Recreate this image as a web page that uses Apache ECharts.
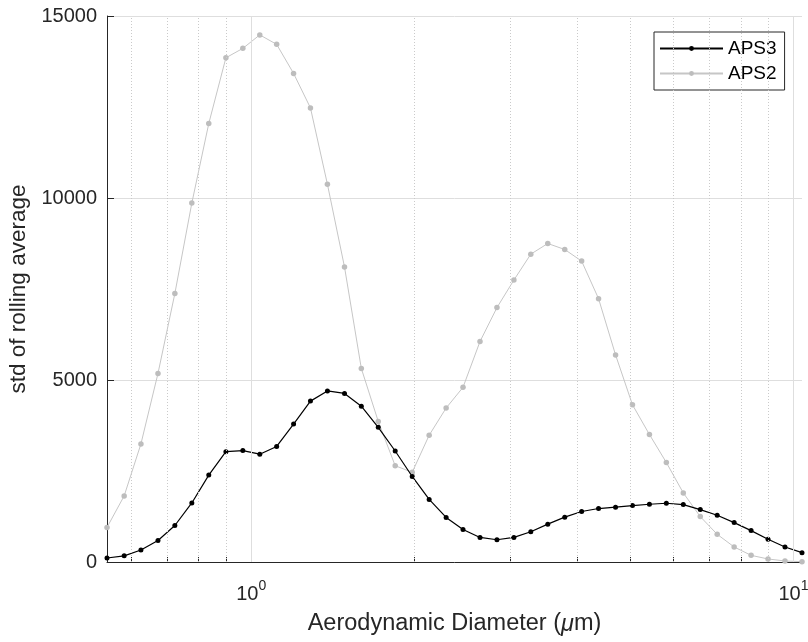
<!DOCTYPE html>
<html>
<head>
<meta charset="utf-8">
<script src="https://cdn.jsdelivr.net/npm/echarts@6/dist/echarts.min.js"></script>
<style>
  html, body { margin: 0; padding: 0; background: #ffffff; }
  #chart { width: 808px; height: 642px; }
</style>
</head>
<body>
<div id="chart"></div>
<script>
// Aerodynamic diameter channel midpoints (µm)
const diameters = [0.542, 0.583, 0.626, 0.673, 0.723, 0.777, 0.835, 0.898, 0.965, 1.037,
  1.114, 1.197, 1.286, 1.382, 1.486, 1.596, 1.715, 1.843, 1.981, 2.129,
  2.288, 2.458, 2.642, 2.839, 3.051, 3.278, 3.523, 3.786, 4.068, 4.371,
  4.698, 5.048, 5.425, 5.829, 6.264, 6.732, 7.234, 7.774, 8.354, 8.977,
  9.647, 10.37];

const aps3 = [110, 170, 330, 592, 1003, 1622, 2387, 3030, 3060, 2962,
  3175, 3790, 4420, 4700, 4630, 4280, 3700, 3050, 2350, 1720,
  1225, 894, 675, 611, 675, 830, 1040, 1232, 1387, 1469,
  1505, 1550, 1586, 1614, 1577, 1440, 1284, 1082, 862, 624,
  413, 257];

const aps2 = [950, 1816, 3244, 5180, 7375, 9860, 12046, 13852, 14111, 14481,
  14221, 13423, 12475, 10379, 8104, 5319, 3862, 2645, 2465, 3483,
  4230, 4799, 6058, 6989, 7746, 8458, 8750, 8586, 8266, 7235,
  5690, 4319, 3503, 2733, 1898, 1247, 761, 413, 183, 83,
  28, 10];

const seriesNames = ['APS3', 'APS2'];
const xTickValues = [0.6, 0.7, 0.8, 0.9, 1, 2, 3, 4, 5, 6, 7, 8, 9, 10];
const xLabelValues = [1, 10];
const xMinorGrid = [0.6, 0.7, 0.8, 0.9, 2, 3, 4, 5, 6, 7, 8, 9];
const xMajorGrid = [1, 10];
const xRange = [0.542, 10.37];
const yRange = [0, 15000];
const yInterval = 5000;

const FONT = "'Liberation Sans', Arial, Helvetica, sans-serif";
const TXT = '#262626';

const chart = echarts.init(document.getElementById('chart'), null, { renderer: 'canvas' });

const gridLines = [];
xMinorGrid.forEach(v => gridLines.push({ xAxis: v, lineStyle: { type: [1, 2], color: '#cacaca', width: 1 } }));
xMajorGrid.forEach(v => gridLines.push({ xAxis: v, lineStyle: { type: 'solid', color: '#dedede', width: 1 } }));

const option = {
  animation: false,
  backgroundColor: '#ffffff',
  textStyle: { fontFamily: FONT },
  grid: { left: 107, top: 16, right: 6, bottom: 80, containLabel: false, outerBoundsMode: 'none' },
  legend: {
    data: seriesNames,
    orient: 'vertical',
    left: 654,
    top: 32,
    itemWidth: 63,
    itemHeight: 6,
    itemGap: 6,
    padding: [7, 8, 7, 5],
    borderColor: '#262626',
    borderWidth: 1,
    borderRadius: 0,
    backgroundColor: '#ffffff',
    textStyle: { fontSize: 19, color: '#000000', lineHeight: 18, fontFamily: FONT }
  },
  xAxis: {
    type: 'log',
    logBase: 10,
    min: xRange[0],
    max: xRange[1],
    axisLine: { show: true, lineStyle: { color: TXT, width: 1 } },
    axisTick: { show: true, inside: true, length: 5, customValues: xTickValues, lineStyle: { color: TXT } },
    axisLabel: {
      customValues: xLabelValues,
      margin: 17,
      formatter: function (v) {
        if (Math.abs(v - 1) < 1e-6) return '{b|10}{s|0}';
        if (Math.abs(v - 10) < 1e-6) return '{b|10}{s|1}';
        return '';
      },
      rich: {
        b: { fontSize: 20, color: TXT, lineHeight: 30, fontFamily: FONT },
        s: { fontSize: 14, color: TXT, verticalAlign: 'top', fontFamily: FONT }
      }
    },
    splitLine: { show: false },
    name: 'Aerodynamic Diameter ({mu|μ}m)',
    nameLocation: 'middle',
    nameGap: 50,
    nameTextStyle: {
      fontSize: 23.5, color: TXT, fontFamily: FONT,
      rich: { mu: { fontSize: 23.5, color: TXT, fontStyle: 'italic', fontFamily: FONT } }
    }
  },
  yAxis: {
    type: 'value',
    min: yRange[0],
    max: yRange[1],
    interval: yInterval,
    axisLine: { show: true, lineStyle: { color: TXT, width: 1 } },
    axisTick: { show: true, inside: true, length: 7, lineStyle: { color: TXT } },
    axisLabel: { fontSize: 20, color: TXT, margin: 10, fontFamily: FONT, formatter: function (v) { return String(v); } },
    splitLine: { show: true, lineStyle: { color: '#dedede', width: 1 } },
    name: 'std of rolling average',
    nameLocation: 'middle',
    nameGap: 77,
    nameTextStyle: { fontSize: 22.5, color: TXT, fontFamily: FONT }
  },
  series: [
    {
      name: '_grid',
      type: 'line',
      data: [],
      silent: true,
      z: 1,
      markLine: {
        silent: true,
        animation: false,
        symbol: ['none', 'none'],
        label: { show: false },
        emphasis: { disabled: true },
        data: gridLines
      }
    },
    {
      name: seriesNames[0],
      type: 'line',
      data: diameters.map((d, i) => [d, aps3[i]]),
      symbol: 'circle',
      symbolSize: 5,
      showSymbol: true,
      z: 4,
      itemStyle: { color: '#000000' },
      lineStyle: { color: '#000000', width: 1.2 },
      emphasis: { disabled: true }
    },
    {
      name: seriesNames[1],
      type: 'line',
      data: diameters.map((d, i) => [d, aps2[i]]),
      symbol: 'circle',
      symbolSize: 5.5,
      showSymbol: true,
      z: 3,
      itemStyle: { color: '#bdbdbd' },
      lineStyle: { color: '#c6c6c6', width: 1 },
      emphasis: { disabled: true }
    }
  ]
};

chart.setOption(option);
</script>
</body>
</html>
